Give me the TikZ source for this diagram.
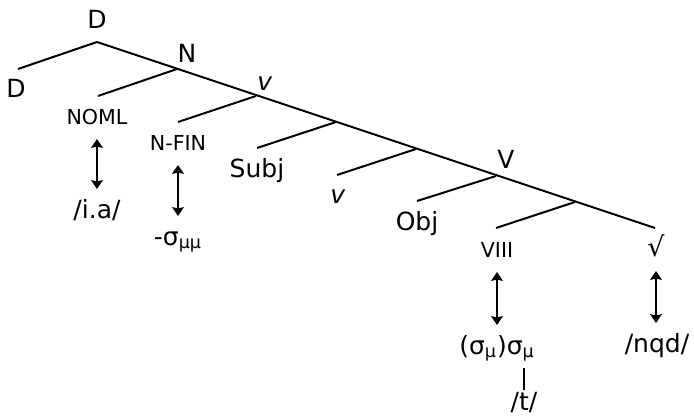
\documentclass[tikz,border=0pt]{standalone}
\usepackage{fontspec}
\setmainfont{DejaVu Sans}
\usetikzlibrary{arrows.meta}

\begin{document}
\begin{tikzpicture}[x=0.5pt,y=-0.5pt,line width=1pt,>={Stealth[length=4.4pt,width=5.8pt,inset=0.6pt]},
    lbl/.style={anchor=base,inner sep=0pt,text height=9.5pt,text depth=2.5pt,font=\fontsize{12.5}{15}\selectfont},
    sm/.style={lbl,font=\fontsize{10.3}{12}\selectfont},
    dbl/.style={<->,shorten <=4.5pt,shorten >=4.5pt}]
  \useasboundingbox (0,0) rectangle (694,418);
  % junctions on the spine
  \coordinate (s0) at (97,42);
  \coordinate (s1) at (177,69);
  \coordinate (s2) at (256,96);
  \coordinate (s3) at (336,122);
  \coordinate (s4) at (416,149);
  \coordinate (s5) at (496,176);
  \coordinate (s6) at (575,202);
  \coordinate (s7) at (655,228);
  % ends of the left branches
  \coordinate (b0) at (18,69);
  \coordinate (b1) at (98,96);
  \coordinate (b2) at (178,122);
  \coordinate (b3) at (257,148);
  \coordinate (b4) at (337,175);
  \coordinate (b5) at (417,201);
  \coordinate (b6) at (496,228);
  \draw (s0) -- (s7);
  \foreach \i in {0,...,6} \draw (s\i) -- (b\i);
  % category labels
  \node[lbl] (dtop) at (97,28) {D};
  \node[lbl] (dleft) at (16,97) {D};
  \node[lbl] (n) at (187,62) {N};
  \node[lbl] (v1) at (265,90) {\textit{v}};
  \node[sm] (noml) at (97,124) {NOML};
  \node[sm] (nfin) at (178,150) {N-FIN};
  \node[lbl] (subj) at (257,177) {Subj};
  \node[lbl] (v2) at (338,203) {\textit{v}};
  \node[lbl] (vv) at (506,168) {V};
  \node[lbl] (obj) at (417,230) {Obj};
  \node[sm] (viii) at (497,257) {VIII};
  \node[lbl,font=\fontsize{13.5}{15}\selectfont] (root) at (656,256) {√};
  % exponents
  \node[lbl] (ia) at (97,218) {/i.a/};
  \node[lbl] (fin) at (178,245) {-σ\textsubscript{μμ}};
  \node[lbl] (syl) at (497,354) {(σ\textsubscript{μ})σ\textsubscript{μ}};
  \node[lbl] (nqd) at (657,352) {/nqd/};
  \node[lbl] (t) at (524,410) {/t/};
  \draw[dbl] (noml) -- (ia);
  \draw[dbl] (nfin) -- (fin);
  \draw[dbl] (viii) -- (syl);
  \draw[dbl] (root) -- (root |- nqd.north);
  \draw[shorten <=4pt] (syl.south -| t) -- (t.north);
\end{tikzpicture}
\end{document}
